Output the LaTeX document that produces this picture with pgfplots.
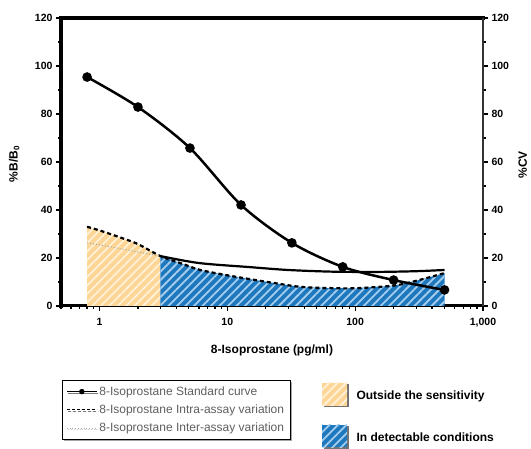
\documentclass[border=0pt]{standalone}
\usepackage{pgfplots}
\pgfplotsset{compat=1.18}
\usepackage{fontspec}
\setmainfont{Liberation Sans}
\usetikzlibrary{patterns.meta,shadows}
\definecolor{yel}{RGB}{253,214,150}
\definecolor{yelstripe}{RGB}{255,240,215}
\definecolor{blu}{RGB}{30,120,190}
\definecolor{blustripe}{RGB}{165,205,238}
\definecolor{leggray}{RGB}{95,95,95}

\begin{document}
\begin{tikzpicture}[x=1pt,y=1pt]
\useasboundingbox (0,0) rectangle (531,449);
\begin{axis}[
  at={(61pt,143pt)}, anchor=south west, scale only axis,
  width=422pt, height=288pt,
  xmode=log, xmin=0.5, xmax=1000, ymin=0, ymax=120,
  axis x line*=bottom, axis y line*=left,
  x axis line style={-, line width=3pt, line cap=rect},
  y axis line style={-, line width=3.2pt, line cap=rect},
  xtick={1,10,100,1000}, xticklabels={1,10,100,{1,000}},
  minor xtick={0.5,0.6,0.7,0.8,0.9,2,3,4,5,6,7,8,9,20,30,40,50,60,70,80,90,200,300,400,500,600,700,800,900},
  ytick={0,20,...,120}, minor y tick num=1,
  tick align=outside,
  major tick length=5pt, minor tick length=3pt,
  every tick/.style={black, line width=1.3pt},
  /pgf/number format/assume math mode=true,
  tick label style={font=\fontsize{10.5}{12}\selectfont\bfseries},
  xticklabel style={yshift=-4pt},
  xlabel={8-Isoprostane (pg/ml)},
  xlabel style={font=\fontsize{12}{14}\selectfont\bfseries, at={(axis description cs:0.5,-0.153)}, anchor=center},
  ylabel={\%B/B\textsubscript{0}},
  ylabel style={font=\fontsize{12}{14}\selectfont\bfseries, at={(axis description cs:-0.111,0.493)}, anchor=center},
  legend style={at={(axis description cs:0.002,-0.257)}, anchor=north west,
    font=\fontsize{12}{14}\selectfont, text=leggray, draw=black, line width=1pt,
    row sep=4pt, inner xsep=4pt, inner ysep=4pt,
    drop shadow={shadow xshift=1.5pt, shadow yshift=-1.5pt, fill=black!70}},
  legend cell align=left,
  legend image code/.code={\draw[mark repeat=2,mark phase=2,#1] plot coordinates {(0pt,0pt) (15pt,0pt) (30pt,0pt)};},
]
% shaded regions under the intra-assay curve
\addplot[draw=none, fill=yel, forget plot,
  postaction={pattern={Lines[angle=45,distance=6pt,line width=1.8pt]}, pattern color=yelstripe}]
  coordinates {(0.8,33) (1,31.5) (1.5,28.3) (2,25.8) (3,20.8)} \closedcycle;
\addplot[draw=none, fill=blu, forget plot,
  postaction={pattern={Lines[angle=45,distance=6pt,line width=1.8pt]}, pattern color=blustripe}]
  coordinates {(3,20.8) (4.5,17.5) (6.15,15) (10,12.8) (15,11.2) (25,9.3) (37,8) (60,7.5) (100,7.4) (200,8.5) (300,10.5) (500,13.7)} \closedcycle;
% intra-assay variation (dashed)
\addplot[black, line width=2.2pt, dash pattern=on 4pt off 3pt, smooth, forget plot]
  coordinates {(0.8,33) (1,31.5) (1.5,28.3) (2,25.8) (3,20.8) (4.5,17.5) (6.15,15) (10,12.8) (15,11.2) (25,9.3) (37,8) (60,7.5) (100,7.4) (200,8.5) (300,10.5) (500,13.7)};
% inter-assay variation
\addplot[black!35, line width=1pt, dotted, smooth, forget plot]
  coordinates {(0.8,26.3) (1,25.5) (2,22.5) (3,20.8)};
\addplot[black, line width=2.2pt, smooth, forget plot]
  coordinates {(3,20.8) (6,17.9) (15,16.2) (30,15) (67,14.3) (150,14.2) (300,14.5) (500,15)};
% standard curve
\addplot[black, line width=2.5pt, smooth, mark=*, mark size=3.5pt, forget plot]
  coordinates {(0.8,95.4) (2,82.9) (5.1,65.8) (12.8,42.1) (32,26.3) (80,16.3) (200,10.8) (500,6.7)};
\addlegendimage{black, line width=1pt, mark=*, mark size=2.2pt}
\addlegendentry{8-Isoprostane Standard curve}
\addlegendimage{black, line width=0.8pt, dash pattern=on 3pt off 2pt}
\addlegendentry{8-Isoprostane Intra-assay variation}
\addlegendimage{black!35, line width=0.8pt, dotted}
\addlegendentry{8-Isoprostane Inter-assay variation}
\end{axis}
\begin{axis}[
  at={(61pt,143pt)}, anchor=south west, scale only axis,
  width=422pt, height=288pt,
  xmode=log, xmin=0.5, xmax=1000, ymin=0, ymax=120,
  axis x line*=top, axis y line*=right,
  x axis line style={-, line width=3.5pt, line cap=rect},
  y axis line style={-, line width=1.6pt, black!80},
  xtick=\empty, minor xtick={},
  ytick={0,20,...,120}, minor y tick num=1,
  tick align=outside,
  major tick length=5pt, minor tick length=3pt,
  every tick/.style={black, line width=1.3pt},
  /pgf/number format/assume math mode=true,
  tick label style={font=\fontsize{10.5}{12}\selectfont\bfseries},
  ylabel={\%CV},
  ylabel style={font=\fontsize{12}{14}\selectfont\bfseries, at={(axis description cs:1.094,0.49)}, anchor=center},
]
\end{axis}
% second legend (colour keys)
\fill[black!55] (323.5,41.5) rectangle (348.5,64.5);
\fill[yel] (322,43) rectangle (347,66);
\fill[pattern={Lines[angle=45,distance=6pt,line width=1.8pt]}, pattern color=yelstripe] (322,43) rectangle (347,66);
\node[anchor=west, font=\fontsize{12}{14}\selectfont\bfseries] at (353,53) {Outside the sensitivity};
\fill[black!55] (323.5,0) rectangle (348.5,22.5);
\fill[blu] (322,1.5) rectangle (347,24);
\fill[pattern={Lines[angle=45,distance=6pt,line width=1.8pt]}, pattern color=blustripe] (322,1.5) rectangle (347,24);
\node[anchor=west, font=\fontsize{12}{14}\selectfont\bfseries] at (353,12) {In detectable conditions};
\end{tikzpicture}
\end{document}
